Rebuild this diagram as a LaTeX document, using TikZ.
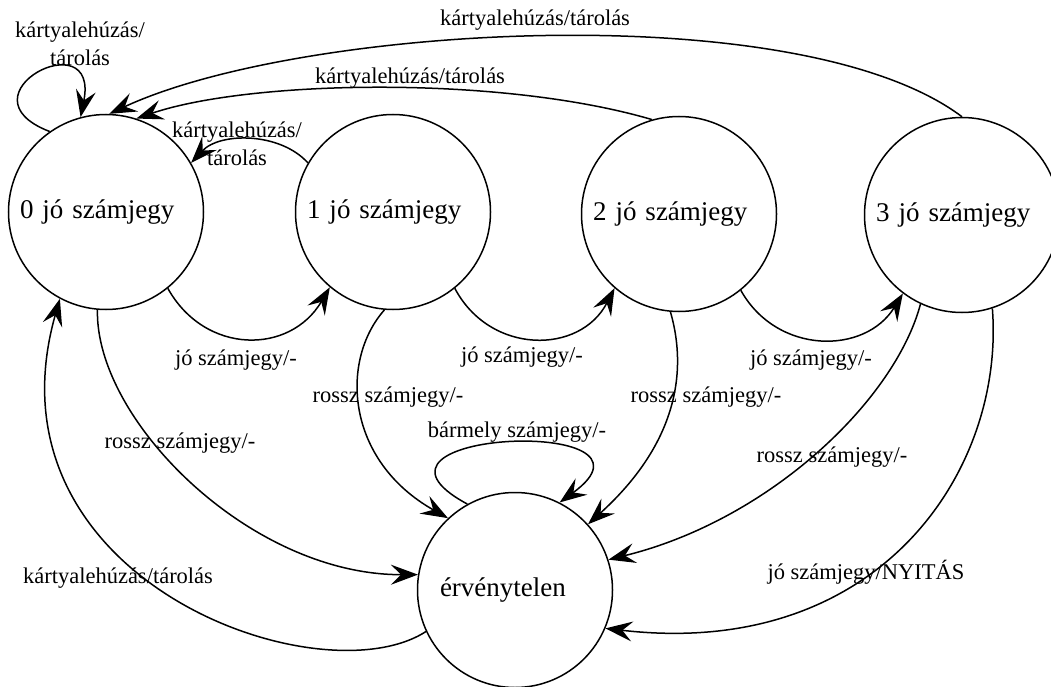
\documentclass[tikz,border=0pt]{standalone}
\usepackage{fontspec}
\setmainfont{Liberation Serif}
\usetikzlibrary{arrows.meta}

\begin{document}
\begin{tikzpicture}[x=1pt,y=-1pt,
  allapot/.style={draw, circle, line width=1.5pt, minimum size=195pt, inner sep=0pt, text width=172pt, align=left, font=\fontsize{27}{32}\selectfont},
  felirat/.style={font=\fontsize{22.5}{28}\selectfont, inner sep=0pt, align=center},
  nyil/.style={line width=1.5pt, -{Stealth[length=27pt,width=20pt,inset=10pt]}}]
\useasboundingbox (0,0) rectangle (1051,687);
\node[allapot] (s0) at (106,212) {0 jó számjegy};
\node[allapot] (s1) at (393,212) {1 jó számjegy};
\node[allapot] (s2) at (679,214) {2 jó számjegy};
\node[allapot] (s3) at (962,215) {3 jó számjegy};
\node[allapot, text width=150pt] (e) at (515,590) {érvénytelen};

\node[felirat] (f00) at (80,44) {kártyalehúzás/\\tárolás};
\node[felirat] (f10) at (237,144) {kártyalehúzás/\\tárolás};
\node[felirat] (f20) at (410,78) {kártyalehúzás/tárolás};
\node[felirat] (f30) at (535,20) {kártyalehúzás/tárolás};
\node[felirat] (f01) at (236,360) {jó számjegy/-};
\node[felirat] (f12) at (522,357) {jó számjegy/-};
\node[felirat] (f23) at (811,360) {jó számjegy/-};
\node[felirat] (f0e) at (180,443) {rossz számjegy/-};
\node[felirat] (f1e) at (388,397) {rossz számjegy/-};
\node[felirat] (f2e) at (706,397) {rossz számjegy/-};
\node[felirat] (f3e) at (832,457) {rossz számjegy/-};
\node[felirat] (f3n) at (866,572) {jó számjegy/NYITÁS};
\node[felirat] (fee) at (517,432) {bármely számjegy/-};
\node[felirat] (fe0) at (118,578) {kártyalehúzás/tárolás};

\draw[nyil] (s0.125) .. controls (-45,95) and (100,20) .. (s0.105);
\draw[nyil] (s1.150) .. controls (280,132) and (220,132) .. (s0.30);
\draw[nyil] (s2.106) .. controls (500,75) and (250,80) .. (s0.72);
\draw[nyil] (s3.90) .. controls (800,-5) and (300,25) .. (s0.88);
\draw[nyil] (s0.-51) .. controls (205,355) and (290,355) .. (s1.230);
\draw[nyil] (s1.-51) .. controls (490,355) and (580,355) .. (s2.229);
\draw[nyil] (s2.-51) .. controls (777,355) and (865,355) .. (s3.233);
\draw[nyil] (s0.265) .. controls (95,420) and (250,575) .. (e.171);
\draw[nyil] (s1.265) .. controls (340,360) and (345,460) .. (e.133);
\draw[nyil] (s2.265) .. controls (690,380) and (670,450) .. (e.42);
\draw[nyil] (s3.245) .. controls (895,400) and (770,520) .. (e.18);
\draw[nyil] (s3.288) .. controls (1005,470) and (880,660) .. (e.-23);
\draw[nyil] (e.119) .. controls (330,430) and (680,415) .. (e.63);
\draw[nyil] (e.205) .. controls (320,700) and (-20,580) .. (s0.242);
\end{tikzpicture}
\end{document}
